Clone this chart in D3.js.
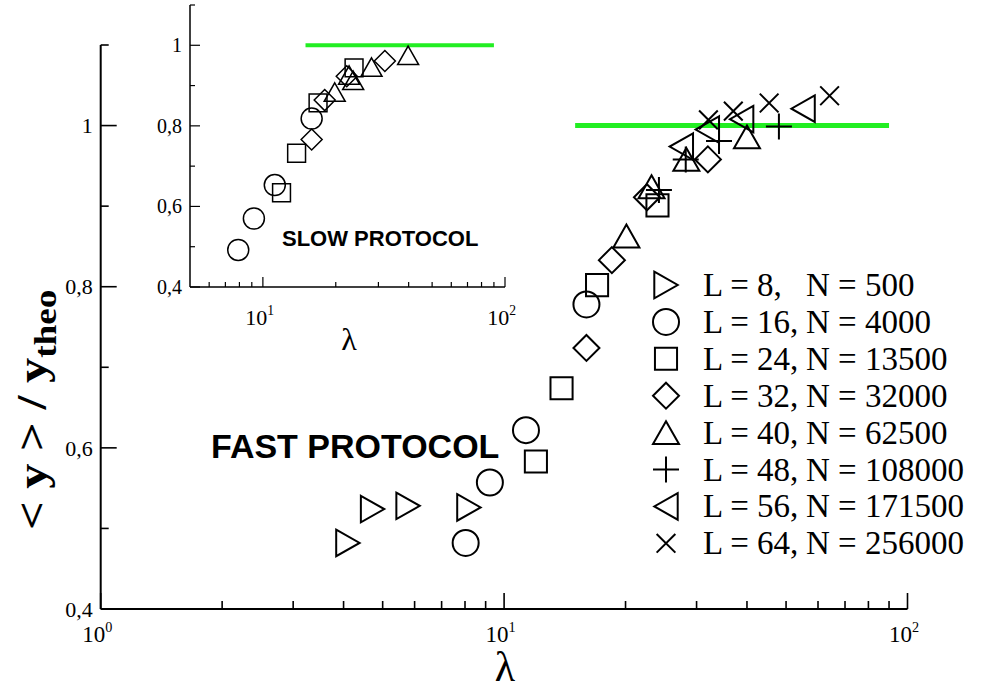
<!DOCTYPE html>
<html>
<head>
<meta charset="utf-8">
<script src="https://cdn.jsdelivr.net/npm/d3@7"></script>
<style>
  html, body { margin: 0; padding: 0; background: #fff; }
  svg { display: block; }
  text { font-family: "Liberation Serif", "Times New Roman", serif; fill: #000; }
</style>
</head>
<body>
<svg id="chart" width="989" height="691"></svg>
<script>
// ---------------- DATA ----------------
const seriesL = [8, 16, 24, 32, 40, 48, 56, 64];
const seriesN = [500, 4000, 13500, 32000, 62500, 108000, 171500, 256000];
const seriesSymbols = ["triRight", "circle", "square", "diamond", "triUp", "plus", "triLeft", "times"];

// FAST protocol (main plot): [lambda, <y>/y_theo]
const fastL8  = [[4.10, 0.482], [4.72, 0.524], [5.78, 0.528], [8.18, 0.526]];
const fastL16 = [[8.03, 0.482], [9.22, 0.557], [11.33, 0.622], [16.0, 0.778]];
const fastL24 = [[11.99, 0.583], [13.88, 0.674], [17.0, 0.802], [24.0, 0.901]];
const fastL32 = [[16.0, 0.724], [18.5, 0.833], [22.6, 0.911], [32.0, 0.958]];
const fastL40 = [[20.1, 0.863], [23.2, 0.924], [28.3, 0.958], [40.0, 0.986]];
const fastL48 = [[24.2, 0.920], [28.2, 0.958], [34.1, 0.981], [48.0, 0.999]];
const fastL56 = [[27.5, 0.974], [31.9, 0.995], [38.8, 1.008], [55.1, 1.021]];
const fastL64 = [[32.1, 1.007], [37.0, 1.018], [45.4, 1.028], [64.1, 1.037]];

// SLOW protocol (inset)
const slowL16 = [[7.91, 0.492], [9.18, 0.570], [11.2, 0.653], [15.9, 0.818]];
const slowL24 = [[11.94, 0.634], [13.78, 0.732], [16.9, 0.857], [23.8, 0.944]];
const slowL32 = [[15.9, 0.766], [18.0, 0.864], [22.2, 0.923], [31.9, 0.961]];
const slowL40 = [[19.8, 0.884], [22.7, 0.926], [23.6, 0.913], [28.1, 0.946], [39.8, 0.975]];

// reference (theory) line: lambda range at value 1
const theoryLine = [[15, 1.0], [90, 1.0]];

// axis ticks
const yMajor = [0.4, 0.6, 0.8, 1.0];
const yMinor = [0.5, 0.7, 0.9, 1.1];
const yTickLabels = ["0,4", "0,6", "0,8", "1"];
const mainXMajor = [1, 10, 100];
const mainXMinor = [2,3,4,5,6,7,8,9,20,30,40,50,60,70,80,90];
const mainXExp = ["0", "1", "2"];
const insetXMajor = [10, 100];
const insetXMinor = [6,7,8,9,20,30,40,50,60,70,80,90];
const insetXExp = ["1", "2"];

// ---------------- DRAW ----------------
const svg = d3.select("#chart");

function symPath(type, r) {
  switch (type) {
    case "circle": { const p = d3.path(); p.arc(0, 0, r, 0, 2 * Math.PI); p.closePath(); return p.toString(); }
    case "square": { const s = r * 0.85; return `M${-s},${-s}H${s}V${s}H${-s}Z`; }
    case "diamond": return `M0,${-r}L${r},0L0,${r}L${-r},0Z`;
    case "triUp": { const w = r, h = r * 0.88; return `M0,${-h}L${w},${h}L${-w},${h}Z`; }
    case "triRight": { const w = r * 0.9, h = r * 1.02; return `M${-w},${-h}L${w},0L${-w},${h}Z`; }
    case "triLeft": { const w = r * 0.9, h = r * 1.02; return `M${w},${-h}L${-w},0L${w},${h}Z`; }
    case "plus": return `M${-r},0H${r}M0,${-r}V${r}`;
    case "times": { const s = r * 0.72; return `M${-s},${-s}L${s},${s}M${s},${-s}L${-s},${s}`; }
  }
}

function drawPlot(g, cfg) {
  const x = d3.scaleLog().domain(cfg.xDomain).range(cfg.xRange);
  const y = d3.scaleLinear().domain([0.4, 1.1]).range(cfg.yRange);
  const [x0] = cfg.xRange, [y0, y1] = cfg.yRange;
  const xEnd = cfg.xRange[1];

  g.append("line").attr("x1", x0).attr("x2", xEnd).attr("y1", y0).attr("y2", y0)
    .attr("stroke", "#000").attr("stroke-width", cfg.axisW);
  g.append("line").attr("x1", x0).attr("x2", x0).attr("y1", y0).attr("y2", y1)
    .attr("stroke", "#000").attr("stroke-width", cfg.axisW);

  g.selectAll(null).data(cfg.xMajor).enter().append("line")
    .attr("x1", d => x(d)).attr("x2", d => x(d)).attr("y1", y0).attr("y2", y0 - cfg.majorLen)
    .attr("stroke", "#000").attr("stroke-width", cfg.tickW);
  g.selectAll(null).data(cfg.xMinor).enter().append("line")
    .attr("x1", d => x(d)).attr("x2", d => x(d)).attr("y1", y0).attr("y2", y0 - cfg.minorLen)
    .attr("stroke", "#000").attr("stroke-width", cfg.tickW);
  g.selectAll(null).data(yMajor).enter().append("line")
    .attr("x1", x0).attr("x2", x0 + cfg.majorLen).attr("y1", d => y(d)).attr("y2", d => y(d))
    .attr("stroke", "#000").attr("stroke-width", cfg.tickW);
  g.selectAll(null).data(yMinor).enter().append("line")
    .attr("x1", x0).attr("x2", x0 + cfg.minorLen).attr("y1", d => y(d)).attr("y2", d => y(d))
    .attr("stroke", "#000").attr("stroke-width", cfg.tickW);

  g.selectAll(null).data(yMajor).enter().append("text")
    .attr("x", x0 - 8).attr("y", d => y(d)).attr("dy", "0.35em")
    .attr("text-anchor", "end").style("font-size", cfg.tickFont + "px")
    .text((d, i) => yTickLabels[i]);

  cfg.xMajor.forEach((v, i) => {
    const t = g.append("text").attr("x", x(v) - cfg.xFont * 0.15).attr("y", y0 + cfg.xLabelOff)
      .attr("text-anchor", "middle").style("font-size", cfg.xFont + "px");
    t.append("tspan").text("10");
    t.append("tspan").attr("dy", -cfg.xFont * 0.45).style("font-size", (cfg.xFont * 0.62) + "px").text(cfg.xExp[i]);
  });

  g.append("line")
    .attr("x1", x(theoryLine[0][0])).attr("x2", x(theoryLine[1][0]))
    .attr("y1", y(theoryLine[0][1])).attr("y2", y(theoryLine[1][1]))
    .attr("stroke", "#22ee22").attr("stroke-width", cfg.greenW);

  cfg.series.forEach(s => {
    g.selectAll(null).data(s.data).enter().append("path")
      .attr("transform", d => `translate(${x(d[0])},${y(d[1])})`)
      .attr("d", symPath(s.sym, cfg.symR))
      .attr("fill", "none").attr("stroke", "#000").attr("stroke-width", cfg.symW);
  });

  g.append("text").attr("x", cfg.lamX).attr("y", cfg.lamY).attr("text-anchor", "middle")
    .style("font-size", cfg.lamFont + "px").text("λ");
  return { x, y };
}

// main plot
const mainG = svg.append("g");
drawPlot(mainG, {
  xDomain: [1, 100], xRange: [100.7, 907.5], yRange: [609, 45],
  xMajor: mainXMajor, xMinor: mainXMinor, xExp: mainXExp,
  axisW: 2, tickW: 1.6, majorLen: 16, minorLen: 8, tickFont: 22, xFont: 23, xLabelOff: 33,
  greenW: 5, symR: 13, symW: 2,
  lamX: 505, lamY: 681, lamFont: 42,
  series: [
    { data: fastL8, sym: seriesSymbols[0] },
    { data: fastL16, sym: seriesSymbols[1] },
    { data: fastL24, sym: seriesSymbols[2] },
    { data: fastL32, sym: seriesSymbols[3] },
    { data: fastL40, sym: seriesSymbols[4] },
    { data: fastL48, sym: seriesSymbols[5] },
    { data: fastL56, sym: seriesSymbols[6] },
    { data: fastL64, sym: seriesSymbols[7] }
  ]
});

// inset plot
const insetG = svg.append("g");
drawPlot(insetG, {
  xDomain: [5, 100], xRange: [190, 505], yRange: [287, 5],
  xMajor: insetXMajor, xMinor: insetXMinor, xExp: insetXExp,
  axisW: 1.5, tickW: 1.2, majorLen: 10, minorLen: 5, tickFont: 20, xFont: 22, xLabelOff: 38,
  greenW: 4, symR: 10.5, symW: 1.5,
  lamX: 349, lamY: 350, lamFont: 32,
  series: [
    { data: slowL16, sym: seriesSymbols[1] },
    { data: slowL24, sym: seriesSymbols[2] },
    { data: slowL32, sym: seriesSymbols[3] },
    { data: slowL40, sym: seriesSymbols[4] }
  ]
});

// annotations
svg.append("text").attr("x", 211).attr("y", 458).style("font-family", "'Liberation Sans', Arial, sans-serif")
  .style("font-weight", "bold").style("font-size", "34px").text("FAST PROTOCOL");
svg.append("text").attr("x", 282).attr("y", 246).style("font-family", "'Liberation Sans', Arial, sans-serif")
  .style("font-weight", "bold").style("font-size", "22px").text("SLOW PROTOCOL");

// y-axis title
const yt = svg.append("text").attr("transform", "translate(46,530) rotate(-90) scale(1.2,1)")
  .attr("text-anchor", "start").style("font-weight", "bold").style("font-size", "42px");
yt.append("tspan").text("< y > / y");
yt.append("tspan").attr("dy", 10).style("font-size", "31px").text("theo");

// legend
const legRowY = d3.range(seriesL.length).map(i => 285 + i * 36.9);
const leg = svg.append("g");
seriesL.forEach((L, i) => {
  const cy = legRowY[i];
  leg.append("path").attr("transform", `translate(666,${cy})`)
    .attr("d", symPath(seriesSymbols[i], 13)).attr("fill", "none").attr("stroke", "#000").attr("stroke-width", 2);
  leg.append("text").attr("x", 703).attr("y", cy + 11).style("font-size", "33px").text(`L = ${L},`);
  leg.append("text").attr("x", 806).attr("y", cy + 11).style("font-size", "33px").text(`N = ${seriesN[i]}`);
});
</script>
</body>
</html>
